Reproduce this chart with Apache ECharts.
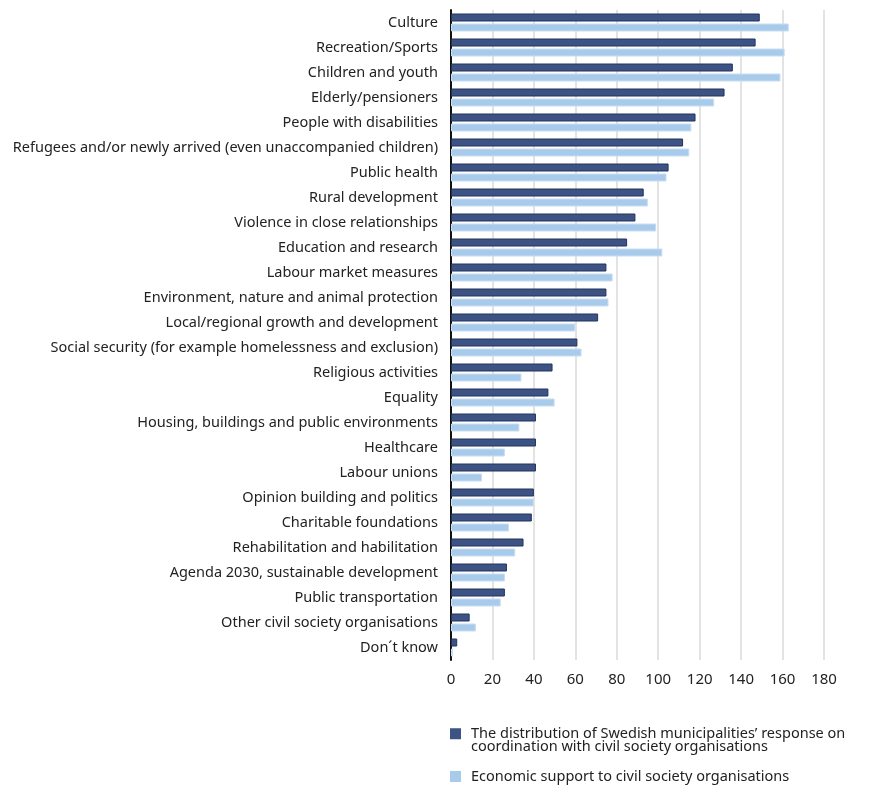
<!DOCTYPE html>
<html lang="en">
<head>
    <meta charset="UTF-8">
    <title>Municipalities and civil society organisations</title>
    <script src="https://cdn.jsdelivr.net/npm/echarts@6/dist/echarts.min.js"></script>
    <style>
        html, body { margin: 0; padding: 0; background: #fff; }
        #main { width: 870px; height: 787px; }
    </style>
</head>
<body>
<div id="main"></div>
<script>
    // categories, top to bottom as in the picture
    var categories = [
        'Culture',
        'Recreation/Sports',
        'Children and youth',
        'Elderly/pensioners',
        'People with disabilities',
        'Refugees and/or newly arrived (even unaccompanied children)',
        'Public health',
        'Rural development',
        'Violence in close relationships',
        'Education and research',
        'Labour market measures',
        'Environment, nature and animal protection',
        'Local/regional growth and development',
        'Social security (for example homelessness and exclusion)',
        'Religious activities',
        'Equality',
        'Housing, buildings and public environments',
        'Healthcare',
        'Labour unions',
        'Opinion building and politics',
        'Charitable foundations',
        'Rehabilitation and habilitation',
        'Agenda 2030, sustainable development',
        'Public transportation',
        'Other civil society organisations',
        'Don\u00b4t know'
    ];
    var coordination = [149, 147, 136, 132, 118, 112, 105, 93, 89, 85, 75, 75, 71, 61, 49, 47, 41, 41, 41, 40, 39, 35, 27, 26, 9, 3];
    var economicSupport = [163, 161, 159, 127, 116, 115, 104, 95, 99, 102, 78, 76, 60, 63, 34, 50, 33, 26, 15, 40, 28, 31, 26, 24, 12, 1];
    var seriesNames = [
        'The distribution of Swedish municipalities\u2019 response on\ncoordination with civil society organisations',
        'Economic support to civil society organisations'
    ];
    var xTicks = { min: 0, max: 180, interval: 20 };

    var font = '"Noto Sans", "Open Sans", sans-serif';
    var legendText = { fontFamily: font, fontSize: 14.5, color: '#222', lineHeight: 13.5, padding: [0, 0, 0, 5] };
    var myChart = echarts.init(document.getElementById('main'));
    var option = {
        animation: false,
        textStyle: { fontFamily: font },
        grid: { left: 451, right: 46, top: 10, bottom: 127, containLabel: false },
        legend: [
            {
                // two-line entry: square sits level with the first line
                // (tiny dot at the bottom of the path makes the icon box taller)
                orient: 'vertical',
                left: 450,
                top: 726,
                padding: 0,
                itemWidth: 11,
                itemHeight: 24,
                icon: 'path://M0,0L11,0L11,11L0,11Z M0,24L0.01,24L0.01,24.01Z',
                itemStyle: { borderWidth: 0 },
                data: [seriesNames[0]],
                textStyle: legendText
            },
            {
                orient: 'vertical',
                left: 450,
                top: 769,
                padding: 0,
                itemWidth: 11,
                itemHeight: 11,
                icon: 'rect',
                itemStyle: { borderWidth: 0 },
                data: [seriesNames[1]],
                textStyle: legendText
            }
        ],
        xAxis: {
            type: 'value',
            min: xTicks.min,
            max: xTicks.max,
            interval: xTicks.interval,
            axisLine: { show: false },
            axisTick: { show: false },
            axisLabel: { fontFamily: font, fontSize: 15, color: '#222', margin: 12 },
            splitLine: { show: true, lineStyle: { color: '#e3e3e3', width: 2 } }
        },
        yAxis: {
            type: 'category',
            inverse: true,
            data: categories,
            axisLine: { show: true, lineStyle: { color: '#111', width: 2 } },
            axisTick: { show: false },
            axisLabel: { fontFamily: font, fontSize: 14.5, color: '#222', margin: 13, padding: [3, 0, 0, 0] }
        },
        series: [
            {
                name: seriesNames[0],
                type: 'bar',
                data: coordination,
                barWidth: 8,
                barGap: '25%',
                itemStyle: { color: '#3c5384', borderColor: '#23355f', borderWidth: 1 }
            },
            {
                name: seriesNames[1],
                type: 'bar',
                data: economicSupport,
                barWidth: 8,
                itemStyle: { color: '#a9cbeb', borderColor: '#c8ddf3', borderWidth: 1 }
            }
        ]
    };
    myChart.setOption(option, true);
</script>
</body>
</html>
